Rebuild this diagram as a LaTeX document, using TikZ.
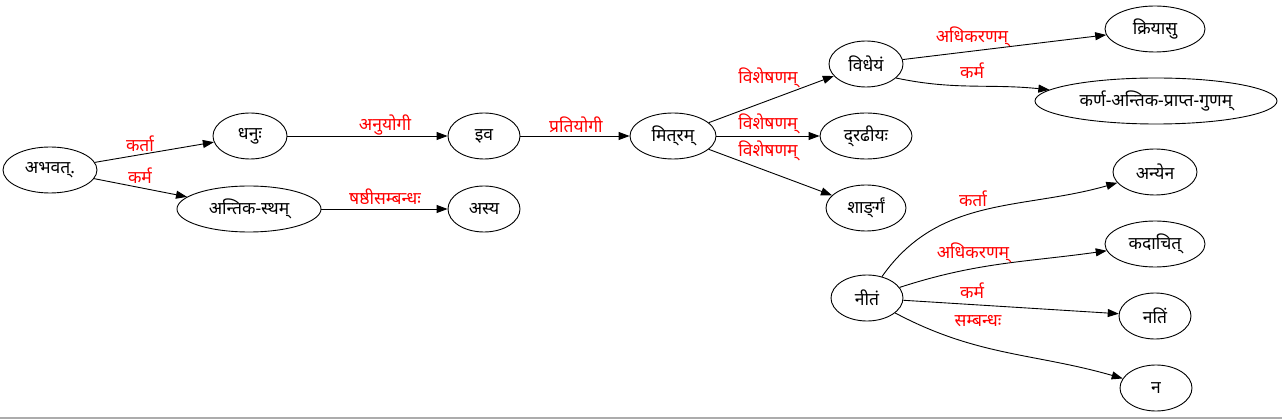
\documentclass[tikz,border=0pt]{standalone}
\usepackage{fontspec}
\setmainfont{Noto Sans}[Script=Devanagari]
\usetikzlibrary{shapes.geometric,arrows.meta}
\tikzset{
  nd/.style={draw, ellipse, line width=0.9pt, inner sep=0pt, font=\fontsize{17.5}{19}\selectfont},
  lbl/.style={text=red, inner sep=0pt, font=\fontsize{17.5}{19}\selectfont},
  ed/.style={line width=0.9pt, -{Triangle[length=11pt,width=8pt]}},
}
\begin{document}
\begin{tikzpicture}[x=1pt,y=1pt]
\useasboundingbox (0,0) rectangle (1282,-419);
\draw[gray!65, line width=1.6pt] (0,-418.2) -- (1282,-418.2);
% nodes
\node[nd, minimum width=94pt, minimum height=46pt] (abhavat) at (50,-170) {अभवत्.};
\node[nd, minimum width=74pt, minimum height=46pt] (dhanuh) at (250,-136) {धनुः};
\node[nd, minimum width=144pt, minimum height=46pt] (antika) at (249,-209) {अन्तिक-स्थम्};
\node[nd, minimum width=72pt, minimum height=46pt] (iva) at (484,-136) {इव};
\node[nd, minimum width=72pt, minimum height=46pt] (asya) at (484,-209) {अस्य};
\node[nd, minimum width=86pt, minimum height=46pt] (mitram) at (673,-136) {मित्^^^^200cरम्};
\node[nd, minimum width=74pt, minimum height=46pt] (vidheyam) at (866,-64) {विधेयं};
\node[nd, minimum width=92pt, minimum height=46pt] (dradhiyah) at (866,-136) {द्^^^^200cरढीयः};
\node[nd, minimum width=80pt, minimum height=46pt] (shaarngam) at (866,-208) {शाङ्^^^^200cर्गं};
\node[nd, minimum width=100pt, minimum height=46pt] (kriyaasu) at (1155,-29) {क्रियासु};
\node[nd, minimum width=242pt, minimum height=46pt] (karna) at (1156,-101) {कर्ण-अन्तिक-प्राप्त-गुणम्};
\node[nd, minimum width=72pt, minimum height=46pt] (nitam) at (867,-298) {नीतं};
\node[nd, minimum width=84pt, minimum height=46pt] (anyena) at (1155,-172) {अन्येन};
\node[nd, minimum width=100pt, minimum height=46pt] (kadachit) at (1155,-244) {कदाचित्};
\node[nd, minimum width=72pt, minimum height=46pt] (natim) at (1155,-316) {नतिं};
\node[nd, minimum width=72pt, minimum height=46pt] (na) at (1156,-388) {न};
% edges
\draw[ed] (abhavat) -- (dhanuh);
\draw[ed] (abhavat) -- (antika);
\draw[ed] (dhanuh) -- (iva);
\draw[ed] (antika) -- (asya);
\draw[ed] (iva) -- (mitram);
\draw[ed] (mitram) -- (vidheyam);
\draw[ed] (mitram) -- (dradhiyah);
\draw[ed] (mitram) -- (shaarngam);
\draw[ed] (vidheyam) -- (kriyaasu);
\draw[ed] (vidheyam.-25) to[out=-12, in=174] (karna);
\draw[ed] (nitam) to[out=55, in=196] (anyena);
\draw[ed] (nitam) to[out=18, in=188] (kadachit);
\draw[ed] (nitam) -- (natim);
\draw[ed] (nitam) to[out=-28, in=164] (na);
% labels
\node[lbl] (l1) at (140,-144) {कर्ता};
\node[lbl] (l2) at (140,-176) {कर्म};
\node[lbl] (l3) at (385,-125) {अनुयोगी};
\node[lbl] (l4) at (385,-197) {षष्ठीसम्बन्धः};
\node[lbl] (l5) at (576,-125) {प्रतियोगी};
\node[lbl] (l6) at (768,-78) {विशेषणम्};
\node[lbl] (l7) at (768,-124) {विशेषणम्};
\node[lbl] (l8) at (768,-151) {विशेषणम्};
\node[lbl] (l9) at (972,-37) {अधिकरणम्};
\node[lbl] (l10) at (972,-71) {कर्म};
\node[lbl] (l11) at (973,-199) {कर्ता};
\node[lbl] (l12) at (973,-253) {अधिकरणम्};
\node[lbl] (l13) at (972,-291) {कर्म};
\node[lbl] (l14) at (978,-321) {सम्बन्धः};
\end{tikzpicture}
\end{document}
